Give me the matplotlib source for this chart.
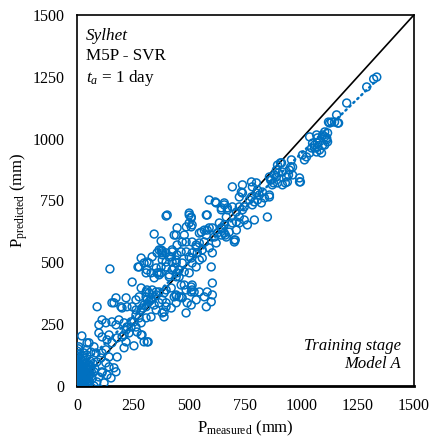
import numpy as np
import matplotlib
matplotlib.use("Agg")
import matplotlib.pyplot as plt

plt.rcParams['font.family'] = 'Liberation Serif'
plt.rcParams['mathtext.fontset'] = 'custom'
plt.rcParams['mathtext.rm'] = 'Liberation Serif'
plt.rcParams['mathtext.it'] = 'Liberation Serif:italic'

# Lecturas aproximadas del gráfico (mm)
pts_origen = [
    (0, 0), (2, 5), (3, 12), (5, 20), (1, 30), (4, 40), (6, 50), (2, 60), (8, 70), (3, 80),
    (5, 95), (0, 105), (2, 115), (10, 10), (12, 25), (15, 35), (18, 5), (20, 45), (22, 60), (25, 15),
    (28, 30), (30, 75), (32, 0), (35, 50), (38, 20), (40, 90), (42, 40), (45, 65), (48, 10), (50, 55),
    (52, 30), (55, 85), (58, 45), (60, 100), (8, 0), (14, 55), (16, 88), (24, 100), (26, 120), (10, 130),
    (6, 150), (34, 110), (44, 125), (0, 15), (1, 22), (4, 3), (7, 35), (9, 62), (11, 18), (0, 70),
    (13, 75), (17, 110), (19, 28), (21, 8), (0, 90), (3, 140), (9, 158), (22, 202), (45, 174), (62, 137),
    (1, 8), (3, 26), (6, 44), (0, 52), (2, 66), (5, 78), (1, 86), (4, 100), (7, 120), (12, 40),
    (14, 12), (16, 64), (18, 80), (20, 95), (23, 35), (26, 52), (29, 5), (31, 62), (33, 90), (36, 30),
    (39, 70), (41, 8), (46, 48), (49, 82), (53, 20), (57, 66), (64, 58), (68, 30), (72, 90), (80, 70),
]
pts_bajo = [
    (90, 320), (156, 336), (201, 315), (223, 320), (246, 320), (263, 307), (299, 327), (321, 340), (344, 327), (353, 307),
    (112, 267), (129, 255), (98, 247), (156, 259), (174, 247), (187, 267), (210, 255), (223, 238), (241, 259), (263, 238),
    (286, 255), (308, 275), (330, 279), (98, 214), (112, 198), (143, 206), (134, 186), (156, 174), (179, 194), (201, 198),
    (219, 178), (232, 214), (268, 218), (286, 206), (210, 154), (54, 174), (76, 158), (45, 146), (31, 133), (85, 133),
    (112, 133), (129, 146), (143, 117), (107, 113), (89, 97), (129, 93), (143, 77), (165, 73), (112, 57), (134, 44),
    (98, 36), (76, 57), (62, 77), (54, 44), (31, 32), (40, 77), (9, 85), (0, 57), (89, 16), (121, 12),
    (152, 32), (174, 57), (54, 12), (22, 4), (0, 24), (0, 44), (179, 117), (317, 178), (76, 0), (147, 473),
    (313, 178), (290, 206), (254, 162), (112, 53), (299, 178), (165, 336), (196, 320), (290, 315), (263, 348), (277, 360),
]
pts_medio = [
    (344, 614), (442, 610), (478, 610), (509, 643), (545, 618), (580, 630), (603, 639),
    (246, 420), (486, 295), (380, 295), (174, 356), (219, 356), (603, 416), (598, 481), (312, 469), (277, 481),
    (380, 546), (420, 522), (442, 364), (464, 360), (509, 400),
    (433, 477), (455, 469), (469, 497), (424, 501), (397, 481), (353, 477), (330, 457), (344, 437), (366, 449), (411, 449),
    (442, 441), (464, 408), (486, 388), (491, 336), (509, 327), (531, 348), (522, 380), (545, 380), (567, 360), (576, 320),
    (580, 380), (603, 368), (598, 340), (210, 206), (219, 226), (241, 238), (254, 259), (277, 275), (263, 287), (286, 307),
    (308, 320), (312, 348), (330, 356), (308, 380), (286, 396), (335, 388), (353, 368), (366, 380), (380, 348), (397, 320),
    (420, 315), (388, 279), (272, 481), (286, 517), (299, 497), (312, 501), (335, 522), (357, 538), (375, 550), (380, 538),
    (308, 457), (321, 497), (357, 457), (366, 457), (397, 501), (424, 542), (446, 530), (442, 497), (424, 469), (446, 457),
    (312, 388), (321, 376), (308, 360), (330, 348), (353, 380), (366, 336), (397, 388), (420, 396), (433, 360), (442, 336),
    (589, 752), (620, 740), (643, 720), (656, 740), (670, 712), (397, 687), (500, 691), (509, 679), (500, 659), (513, 651),
    (580, 691), (446, 639), (487, 643), (433, 610), (554, 622), (567, 630), (589, 639), (576, 610), (612, 602), (634, 659),
    (643, 639), (656, 651), (424, 550), (446, 570), (469, 582), (464, 542), (513, 582), (531, 570), (536, 538), (567, 582),
    (589, 558), (603, 538), (545, 509), (500, 522), (487, 542), (366, 550), (380, 530),
    (375, 586), (397, 538), (380, 509), (411, 522), (442, 509), (486, 582), (513, 538), (509, 517), (531, 562), (545, 578),
    (558, 550), (620, 578), (701, 582), (411, 441), (455, 441), (478, 461), (500, 457), (513, 497), (531, 481), (558, 517),
    (388, 376), (442, 368), (455, 360), (469, 356), (513, 408), (513, 388), (509, 380), (478, 408), (397, 336), (388, 299),
    (375, 457), (375, 481),
]
pts_alto = [
    (692, 805), (737, 813), (732, 784), (723, 764), (777, 825), (781, 805), (799, 821), (804, 792), (812, 772), (826, 784),
    (835, 760), (857, 764), (790, 744), (821, 740), (777, 764), (692, 724), (723, 724), (745, 724), (866, 833), (879, 853),
    (888, 873), (893, 893), (870, 813), (893, 821), (848, 683), (737, 780), (799, 780), (804, 752), (781, 732), (768, 752),
    (857, 772), (915, 813), (937, 825), (991, 825), (656, 732), (670, 720), (643, 712), (665, 683), (710, 703), (723, 683),
    (737, 712), (745, 671), (759, 651), (723, 659), (790, 671), (710, 663), (692, 659), (647, 639), (656, 618), (678, 622),
    (710, 630), (701, 590), (665, 602), (643, 610), (625, 618), (661, 610), (705, 590), (402, 691), (500, 699), (509, 683),
    (576, 691), (616, 744),
    (911, 902), (955, 914), (960, 885), (946, 873), (915, 865), (991, 841), (888, 845), (933, 845), (857, 845), (960, 853),
    (1004, 934), (1022, 926), (1013, 914), (1036, 942), (1045, 962), (1058, 974), (1071, 982), (1080, 954), (1089, 942), (1067, 946),
    (1103, 974), (1112, 995), (1116, 1023), (1094, 1015), (1103, 1007), (1071, 1003), (1125, 1063), (1147, 1067), (1156, 1096), (1161, 1063),
    (1134, 1067), (1335, 1249), (1321, 1241), (1290, 1209), (1201, 1144), (1165, 1063), (1120, 1067), (1036, 1007), (1067, 1015), (1103, 1027),
    (1112, 1003), (1080, 987), (1049, 982), (1094, 974), (1058, 962), (1071, 966), (1116, 987), (995, 825), (906, 902), (951, 885),
    (942, 853), (928, 821), (875, 821), (862, 833), (897, 861),
]

datos = np.array(pts_origen + pts_bajo + pts_medio + pts_alto, dtype=float)
medido = datos[:, 0]
predicho = datos[:, 1]

ticks = [0, 250, 500, 750, 1000, 1250, 1500]
azul = '#0070C0'

fig = plt.figure(figsize=(4.32, 4.41), dpi=100)
ax = fig.add_axes([0.178, 0.125, 0.780, 0.841])

# linea 1:1
ax.plot([0, 1500], [0, 1500], color='black', lw=1.2, zorder=1)

# linea de tendencia (ajuste lineal)
m, b = np.polyfit(medido, predicho, 1)
xt = np.array([medido.min(), medido.max()])
ax.plot(xt, m * xt + b, color=azul, lw=1.8, ls=(0, (0.6, 1.6)), dash_capstyle='round', zorder=2)

ax.scatter(medido, predicho, s=32, facecolors='none', edgecolors=azul, linewidths=1.1, zorder=3)

ax.set_xlim(0, 1500)
ax.set_ylim(0, 1500)
ax.set_xticks(ticks)
ax.set_yticks(ticks)
ax.tick_params(length=0, labelsize=11.5, pad=9)

for s in ax.spines.values():
    s.set_linewidth(1.2)
ax.spines['bottom'].set_linewidth(2.0)

ax.set_xlabel(r'P$_{\mathregular{measured}}$ (mm)', fontsize=12, labelpad=3)
ax.set_ylabel(r'P$_{\mathregular{predicted}}$ (mm)', fontsize=12, labelpad=2)

ax.text(0.027, 0.965, 'Sylhet', style='italic', fontsize=12.3, transform=ax.transAxes, va='top')
ax.text(0.027, 0.911, 'M5P - SVR', fontsize=12.3, transform=ax.transAxes, va='top')
ax.text(0.027, 0.857, r'$t_a$ = 1 day', fontsize=12.3, transform=ax.transAxes, va='top')

ax.text(0.961, 0.097, 'Training stage', style='italic', fontsize=12, transform=ax.transAxes, ha='right', va='baseline')
ax.text(0.961, 0.048, 'Model A', style='italic', fontsize=12, transform=ax.transAxes, ha='right', va='baseline')

plt.savefig('out.png', dpi=100)
